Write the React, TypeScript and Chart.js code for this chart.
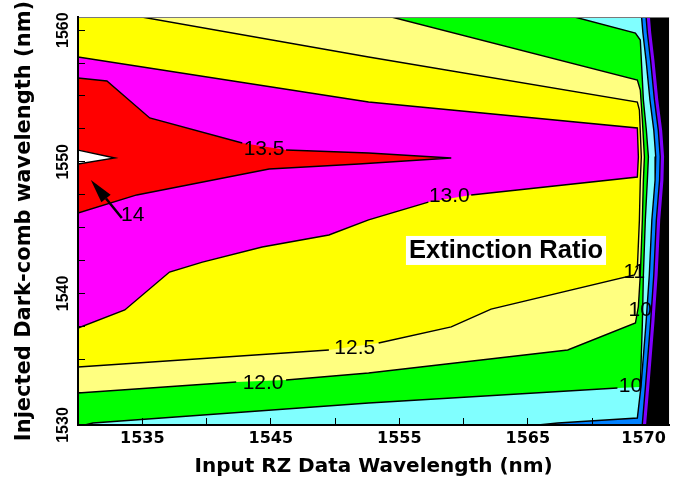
import React, { useEffect, useRef } from "react";
import { Chart, registerables } from "chart.js";

Chart.register(...registerables);

type Pt = [number, number] | null;

// ---------- axes ----------
const X_RANGE = [1530, 1576];
const Y_RANGE = [1530, 1561];
const X_TICK_VALUES = [1530, 1535, 1540, 1545, 1550, 1555, 1560, 1565, 1570, 1574];
const X_LABEL_VALUES = [1535, 1545, 1555, 1565, 1574];
const X_LABEL_TEXT = ["1535", "1545", "1555", "1565", "1570"];
const X_HIDDEN_TICK = 1574;
const Y_TICK_VALUES = [1530, 1532.5, 1535, 1537.5, 1540, 1542.5, 1545, 1547.5, 1550, 1552.5, 1555, 1557.5, 1560];
const Y_LABEL_VALUES = [1530, 1540, 1550, 1560];
const Y_LABEL_TEXT = ["1530", "1540", "1550", "1560"];

// ---------- right-hand wall contours (x as a function of y) ----------
const WALL_Y = [1561, 1559.8, 1557.7, 1554.7, 1552.4, 1550.4, 1548.6, 1545.6, 1541.4, 1537.8, 1532.9, 1530];
const WALL_BLACK_X = [1574.5, 1574.6, 1574.85, 1575.15, 1575.45, 1575.6, 1575.55, 1575.3, 1575.1, 1574.85, 1574.45, 1574.2];
const WALL_PURPLE_X = [1574.2, 1574.3, 1574.55, 1574.85, 1575.15, 1575.3, 1575.25, 1575.0, 1574.8, 1574.55, 1574.15, 1573.9];
const WALL_BLUE_X = [1573.85, 1573.95, 1574.2, 1574.5, 1574.8, 1574.95, 1574.9, 1574.65, 1574.45, 1574.2, 1573.8, 1573.55];
const BLUE_FOOT: Pt[] = [[1573.52, 1530.53], [1567.33, 1530.15], [1565.8, 1530]];

// ---------- contour lines (null = label gap) ----------
const C_GREEN: Pt[] = [
  [1568.64, 1561], [1573.37, 1559.78], [1573.75, 1559.25], [1573.99, 1554.69], [1574.22, 1552.41],
  [1574.38, 1550.36], [1574.3, 1548.61], [1574.14, 1545.58], [1573.99, 1541.4], [1573.91, 1537.75],
  [1573.75, 1532.89], null, [1571.97, 1532.81], [1552.61, 1531.67], [1531.16, 1530.15], [1530.54, 1530],
];
const C_120: Pt[] = [
  [1554.39, 1561], [1573.52, 1556.21], [1573.75, 1555.45], [1573.91, 1553.17], [1574.07, 1550.36],
  [1573.99, 1548.61], [1573.91, 1545.58], [1573.75, 1541.4], [1573.6, 1539.0], [1573.37, 1537.75],
  [1568.1, 1535.7], [1552.61, 1533.95], [1546.19, 1533.42], null, [1542.31, 1533.27], [1530, 1532.43],
];
const C_125: Pt[] = [
  [1534.96, 1561], [1552.61, 1557.96], [1573.52, 1554.54], [1573.68, 1553.93], [1573.83, 1550.36],
  [1573.75, 1548.61], [1573.68, 1545.58], [1573.52, 1541.9], [1573.29, 1541.4], [1562.14, 1538.81],
  [1559.04, 1537.45], [1553.39, 1536.23], null, [1549.52, 1535.7], [1530, 1534.41],
];
const C_130: Pt[] = [
  [1530, 1557.96], [1552.61, 1554.54], [1573.52, 1552.57], [1573.6, 1550.36], [1573.52, 1548.84],
  [1560.59, 1547.48], null, [1557.26, 1546.94], [1552.61, 1545.58], [1549.52, 1544.44],
  [1544.33, 1543.52], [1539.68, 1542.38], [1537.12, 1541.62], [1533.64, 1538.74], [1530, 1537.37],
];
const C_135: Pt[] = [
  [1530, 1556.37], [1532.25, 1556.14], [1535.58, 1553.33], [1542.78, 1551.43], null,
  [1546.19, 1550.89], [1552.61, 1550.67], [1559.04, 1550.29], [1551.84, 1549.83],
  [1544.87, 1549.45], [1534.57, 1547.48], [1530, 1546.11],
];
const C_140: Pt[] = [[1530, 1550.89], [1532.87, 1550.29], [1530, 1549.83]];

// ---------- labels ----------
const CONTOUR_LABELS = ["13.5", "13.0", "12.5", "12.0", "11", "10", "10", "14"];
const CONTOUR_LABEL_X = [1544.48, 1558.89, 1551.53, 1544.4, 1573.29, 1573.75, 1572.98, 1534.26];
const CONTOUR_LABEL_Y = [1550.97, 1547.4, 1535.85, 1533.19, 1541.62, 1538.74, 1532.96, 1545.96];
const ARROW_TAIL = [1533.41, 1545.73];
const ARROW_TIP = [1531.0, 1548.62];
const BOX_TEXT = "Extinction Ratio";
const BOX_POS = [1563.3, 1543.3];

// ---------- colours ----------
const COL = {
  black: "#000000",
  purple: "#8000FF",
  blue: "#0080FF",
  cyan: "#80FFFF",
  green: "#00FF00",
  lightYellow: "#FFFF80",
  yellow: "#FFFF00",
  magenta: "#FF00FF",
  red: "#FF0000",
  white: "#FFFFFF",
};

const solid = (pts: Pt[]) => pts.filter((p) => p !== null) as [number, number][];
const toXY = (pts: Pt[]) => pts.map((p) => (p ? { x: p[0], y: p[1] } : { x: NaN, y: NaN }));
const wall = (xs: number[]): Pt[] => xs.map((x, i) => [x, WALL_Y[i]] as Pt);

const X0 = X_RANGE[0], X1 = X_RANGE[1], Y0 = Y_RANGE[0], Y1 = Y_RANGE[1];

const blueWallLine: Pt[] = [...wall(WALL_BLUE_X).slice(0, 11), ...BLUE_FOOT];

const regions: { pts: Pt[]; color: string }[] = [
  { pts: [[X0, Y0], [X1, Y0], [X1, Y1], [X0, Y1]], color: COL.black },
  { pts: [[X0, Y1], ...wall(WALL_BLACK_X), [X0, Y0]], color: COL.purple },
  { pts: [[X0, Y1], ...wall(WALL_PURPLE_X), [X0, Y0]], color: COL.blue },
  { pts: [[X0, Y1], ...blueWallLine, [X0, Y0]], color: COL.cyan },
  { pts: [...C_GREEN, [X0, Y0], [X0, Y1]], color: COL.green },
  { pts: [...C_120, [X0, Y1]], color: COL.lightYellow },
  { pts: [...C_125, [X0, Y1]], color: COL.yellow },
  { pts: C_130, color: COL.magenta },
  { pts: C_135, color: COL.red },
  { pts: C_140, color: COL.white },
];

const contourLines: Pt[][] = [C_GREEN, C_120, C_125, C_130, C_135, C_140, blueWallLine, wall(WALL_PURPLE_X)];
const TOP_EDGE: Pt[] = [[X0, Y1], [X1, Y1]];

const annotationPlugin = {
  id: "contourAnnotations",
  afterDatasetsDraw(chart: any) {
    const { ctx, scales } = chart;
    const xs = scales.x, ys = scales.y;
    ctx.save();
    ctx.fillStyle = "#000";
    ctx.textAlign = "center";
    ctx.textBaseline = "middle";
    ctx.font = '21px "Liberation Sans", Arial, sans-serif';
    CONTOUR_LABELS.forEach((t, i) => {
      ctx.fillText(t, xs.getPixelForValue(CONTOUR_LABEL_X[i]), ys.getPixelForValue(CONTOUR_LABEL_Y[i]));
    });
    // arrow
    const tx = xs.getPixelForValue(ARROW_TAIL[0]), ty = ys.getPixelForValue(ARROW_TAIL[1]);
    const hx = xs.getPixelForValue(ARROW_TIP[0]), hy = ys.getPixelForValue(ARROW_TIP[1]);
    const dx = hx - tx, dy = hy - ty;
    const len = Math.hypot(dx, dy);
    const ux = dx / len, uy = dy / len;
    const headLen = 24, headHalf = 6;
    const bx = hx - ux * headLen, by = hy - uy * headLen;
    ctx.strokeStyle = "#000";
    ctx.lineWidth = 2.5;
    ctx.beginPath();
    ctx.moveTo(tx, ty);
    ctx.lineTo(bx, by);
    ctx.stroke();
    ctx.beginPath();
    ctx.moveTo(hx, hy);
    ctx.lineTo(bx - uy * headHalf, by + ux * headHalf);
    ctx.lineTo(bx + uy * headHalf, by - ux * headHalf);
    ctx.closePath();
    ctx.fill();
    // boxed title
    ctx.font = 'bold 25.5px "Liberation Sans", Arial, sans-serif';
    const cx = xs.getPixelForValue(BOX_POS[0]), cy = ys.getPixelForValue(BOX_POS[1]);
    const w = ctx.measureText(BOX_TEXT).width;
    ctx.fillStyle = "#fff";
    ctx.fillRect(cx - w / 2 - 3, cy - 14, w + 6, 29);
    ctx.fillStyle = "#000";
    ctx.fillText(BOX_TEXT, cx, cy + 1);
    ctx.restore();
  },
};

export default function App() {
  const ref = useRef<HTMLCanvasElement>(null);
  useEffect(() => {
    const datasets: any[] = [];
    datasets.push({
      data: toXY(TOP_EDGE),
      borderColor: "#7a7a7a",
      borderWidth: 2,
      pointRadius: 0,
      fill: false,
      order: 0,
    });
    contourLines.forEach((pts) => {
      datasets.push({
        data: toXY(pts),
        borderColor: "#000",
        borderWidth: 1.4,
        pointRadius: 0,
        fill: false,
        spanGaps: false,
        order: 0,
      });
    });
    regions.forEach((r, i) => {
      datasets.push({
        data: toXY(solid(r.pts)),
        borderColor: "rgba(0,0,0,0)",
        borderWidth: 0,
        backgroundColor: r.color,
        pointRadius: 0,
        fill: "shape",
        order: regions.length - i,
      });
    });
    const chart = new Chart(ref.current as HTMLCanvasElement, {
      type: "line",
      data: { datasets },
      options: {
        animation: false,
        responsive: false,
        devicePixelRatio: 1,
        events: [],
        layout: { padding: { left: 0, right: 5, top: 17, bottom: 0 } },
        plugins: {
          legend: { display: false },
          tooltip: { enabled: false },
        },
        scales: {
          x: {
            type: "linear",
            min: X_RANGE[0],
            max: X_RANGE[1],
            afterBuildTicks: (s: any) => {
              s.ticks = X_TICK_VALUES.map((v) => ({ value: v }));
            },
            afterFit: (s: any) => {
              s.height = 55;
            },
            ticks: {
              autoSkip: false,
              minRotation: 0,
              maxRotation: 0,
              padding: 11,
              color: "#000",
              font: { family: '"DejaVu Sans", Verdana, sans-serif', size: 16, weight: "bold" },
              callback: (v: any) => {
                const i = X_LABEL_VALUES.indexOf(Number(v));
                return i >= 0 ? X_LABEL_TEXT[i] : "";
              },
            },
            grid: {
              display: true,
              drawOnChartArea: false,
              drawTicks: true,
              tickLength: -7,
              color: "#000",
              tickColor: (c: any) => (c.tick && c.tick.value === X_HIDDEN_TICK ? "rgba(0,0,0,0)" : "#000"),
              lineWidth: 1,
              z: 1,
            },
            border: { display: true, color: "#000", width: 2, z: 1 },
            title: {
              display: true,
              text: "Input RZ Data Wavelength (nm)",
              color: "#000",
              font: { family: '"DejaVu Sans", Verdana, sans-serif', size: 20, weight: "bold" },
              padding: { top: 0, bottom: 1 },
            },
          },
          y: {
            type: "linear",
            position: "left",
            min: Y_RANGE[0],
            max: Y_RANGE[1],
            afterBuildTicks: (s: any) => {
              s.ticks = Y_TICK_VALUES.map((v) => ({ value: v }));
            },
            afterFit: (s: any) => {
              s.width = 78;
            },
            ticks: {
              autoSkip: false,
              minRotation: 90,
              maxRotation: 90,
              crossAlign: "center",
              padding: 4,
              color: "#000",
              font: { family: '"Liberation Sans", Arial, sans-serif', size: 16, weight: "bold" },
              callback: (v: any) => {
                const i = Y_LABEL_VALUES.indexOf(Number(v));
                return i >= 0 ? Y_LABEL_TEXT[i] : "";
              },
            },
            grid: {
              display: true,
              drawOnChartArea: false,
              drawTicks: true,
              tickLength: -7,
              color: "#000",
              lineWidth: 1,
              z: 1,
            },
            border: { display: true, color: "#000", width: 2, z: 1 },
            title: {
              display: true,
              text: "Injected Dark-comb wavelength (nm)",
              color: "#000",
              font: { family: '"DejaVu Sans", Verdana, sans-serif', size: 21, weight: "bold" },
              padding: { top: 12, bottom: 0 },
            },
          },
        },
      } as any,
      plugins: [annotationPlugin],
    });
    return () => chart.destroy();
  }, []);
  return (
    <div style={{ position: "fixed", left: 0, top: 0, width: 677, height: 480, background: "#fff" }}>
      <canvas ref={ref} width={677} height={480} style={{ display: "block" }} />
    </div>
  );
}
